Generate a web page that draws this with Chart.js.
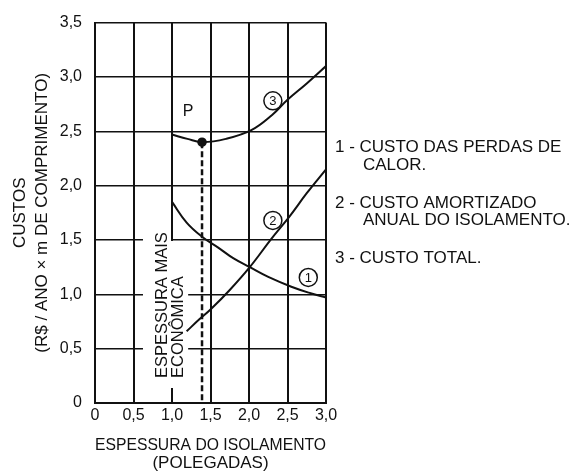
<!DOCTYPE html>
<html>
<head>
<meta charset="utf-8">
<script src="https://cdn.jsdelivr.net/npm/chart.js@4.4.1/dist/chart.umd.min.js"></script>
<style>
  html, body { margin: 0; padding: 0; background: #fff; }
  canvas { display: block; }
</style>
</head>
<body>
<canvas id="custos-chart" width="572" height="475"></canvas>
<script>
const xTickLabels = ['0', '0,5', '1,0', '1,5', '2,0', '2,5', '3,0'];
const yTickLabels = ['0', '0,5', '1,0', '1,5', '2,0', '2,5', '3,0', '3,5'];

// 1 - custo das perdas de calor
const perdasX = [1.0, 1.19, 1.39, 1.6, 1.8, 2.01, 2.25, 2.55, 2.8, 3.0];
const perdasY = [1.85, 1.66, 1.53, 1.43, 1.33, 1.25, 1.16, 1.07, 1.01, 0.97];
// 2 - custo amortizado anual do isolamento
const isolamentoX = [1.19, 1.355, 1.5, 1.75, 2.01, 2.29, 2.53, 2.75, 3.0];
const isolamentoY = [0.66, 0.77, 0.86, 1.04, 1.25, 1.51, 1.72, 1.93, 2.15];
// 3 - custo total
const totalX = [1.0, 1.2, 1.4, 1.7, 2.03, 2.3, 2.5, 2.75, 3.0];
const totalY = [2.47, 2.43, 2.40, 2.43, 2.51, 2.65, 2.79, 2.94, 3.10];
// ponto P e espessura mais economica
const otimoX = [1.39, 1.39];
const otimoY = [2.40, 0];

// numeros nos circulos, junto de cada curva
const circleText = ['1', '2', '3'];
const circleX = [2.77, 2.31, 2.31];
const circleY = [1.155, 1.68, 2.78];

const legendLines = [
  '1 - CUSTO DAS PERDAS DE', 'CALOR.',
  '2 - CUSTO AMORTIZADO', 'ANUAL DO ISOLAMENTO.',
  '3 - CUSTO TOTAL.'
];
const legendIndent = [0, 28, 0, 28, 0];
const legendDy = [125, 143, 181, 198, 236];

const FONT = "'Liberation Sans', Arial, Helvetica, sans-serif";
const INK = '#111';

const toPoints = (xs, ys) => xs.map((x, i) => ({ x: x, y: ys[i] }));

const curve = {
  borderColor: INK,
  borderWidth: 2,
  pointRadius: 0,
  tension: 0.4,
  fill: false
};

const notesPlugin = {
  id: 'notes',
  beforeDatasetsDraw(chart) {
    const ctx = chart.ctx;
    const x = chart.scales.x, y = chart.scales.y;
    // white box behind the rotated text (it cuts the grid)
    ctx.save();
    ctx.font = '16.5px ' + FONT;
    const w1 = ctx.measureText('ESPESSURA MAIS').width;
    const c1 = x.getPixelForValue(0.87), c2 = x.getPixelForValue(1.08);
    const base = y.getPixelForValue(0.23);
    const top2 = y.getPixelForValue(1.5) + 1;
    ctx.fillStyle = '#fff';
    ctx.fillRect(c1 - 19, top2, (c2 + 10) - (c1 - 19), base + 10 - top2);
    ctx.fillRect(c1 - 19, base - w1 - 4, 28, w1 + 14);
    ctx.restore();
  },
  afterDatasetsDraw(chart) {
    const ctx = chart.ctx;
    const x = chart.scales.x, y = chart.scales.y;
    const area = chart.chartArea;
    ctx.save();
    ctx.fillStyle = INK;
    ctx.strokeStyle = INK;

    // rotated note
    ctx.font = '16.5px ' + FONT;
    ctx.textAlign = 'left';
    ctx.textBaseline = 'middle';
    [['ESPESSURA MAIS', 0.87], ['ECONÔMICA', 1.08]].forEach(([t, v]) => {
      ctx.save();
      ctx.translate(x.getPixelForValue(v), y.getPixelForValue(0.23));
      ctx.rotate(-Math.PI / 2);
      ctx.fillText(t, 0, 0);
      ctx.restore();
    });

    // P
    ctx.font = '16px ' + FONT;
    ctx.textAlign = 'center';
    ctx.fillText('P', x.getPixelForValue(1.21), y.getPixelForValue(2.68));

    // circled numbers
    ctx.lineWidth = 1.5;
    ctx.font = '13px ' + FONT;
    circleText.forEach((t, i) => {
      const px = x.getPixelForValue(circleX[i]);
      const py = y.getPixelForValue(circleY[i]);
      ctx.fillStyle = '#fff';
      ctx.beginPath();
      ctx.arc(px, py, 9, 0, Math.PI * 2);
      ctx.fill();
      ctx.stroke();
      ctx.fillStyle = INK;
      ctx.fillText(t, px, py + 1);
    });

    // legend text on the right
    ctx.font = '17px ' + FONT;
    ctx.textAlign = 'left';
    legendLines.forEach((t, i) => {
      ctx.fillText(t, area.right + 9 + legendIndent[i], area.top + legendDy[i]);
    });
    ctx.restore();
  }
};

const chartCtx = document.getElementById('custos-chart').getContext('2d');
const custosChart = new Chart(chartCtx, {
  type: 'line',
  plugins: [notesPlugin],
  data: {
    datasets: [
      Object.assign({ label: 'Custo das perdas de calor', data: toPoints(perdasX, perdasY) }, curve),
      Object.assign({ label: 'Custo amortizado anual do isolamento', data: toPoints(isolamentoX, isolamentoY) }, curve),
      Object.assign({ label: 'Custo total', data: toPoints(totalX, totalY) }, curve),
      {
        label: 'Espessura mais econômica',
        data: toPoints(otimoX, otimoY),
        borderColor: INK,
        borderWidth: 2.5,
        borderDash: [6, 3],
        tension: 0,
        pointRadius: [3.5, 0],
        pointBackgroundColor: INK,
        pointBorderColor: INK
      }
    ]
  },
  options: {
    responsive: false,
    animation: false,
    devicePixelRatio: 1,
    layout: { padding: { top: 19, right: 246, left: 0, bottom: 0 } },
    plugins: {
      legend: { display: false },
      tooltip: { enabled: false }
    },
    scales: {
      x: {
        type: 'linear',
        min: 0,
        max: 3,
        afterFit: (s) => { s.height = 72; },
        ticks: {
          stepSize: 0.5,
          padding: 3,
          color: INK,
          font: { family: FONT, size: 16 },
          callback: (v, i) => xTickLabels[i]
        },
        grid: { color: INK, lineWidth: 2, drawTicks: false },
        border: { display: true, color: INK, width: 2 },
        title: {
          display: true,
          text: ['ESPESSURA DO ISOLAMENTO', '(POLEGADAS)'],
          color: INK,
          font: { family: FONT, size: 17, lineHeight: 1.06 },
          padding: { top: 0, bottom: 3 }
        }
      },
      y: {
        min: 0,
        max: 3.5,
        afterFit: (s) => { s.width = 95; },
        ticks: {
          stepSize: 0.5,
          padding: 13,
          color: INK,
          font: { family: FONT, size: 16 },
          callback: (v, i) => yTickLabels[i]
        },
        grid: { color: INK, lineWidth: 1.5, drawTicks: false },
        border: { display: true, color: INK, width: 2 },
        title: {
          display: true,
          text: ['CUSTOS', '(R$ / ANO × m DE COMPRIMENTO)'],
          color: INK,
          font: { family: FONT, size: 17, lineHeight: 1.3 },
          padding: { top: 9, bottom: 0 }
        }
      }
    }
  }
});
</script>
</body>
</html>
